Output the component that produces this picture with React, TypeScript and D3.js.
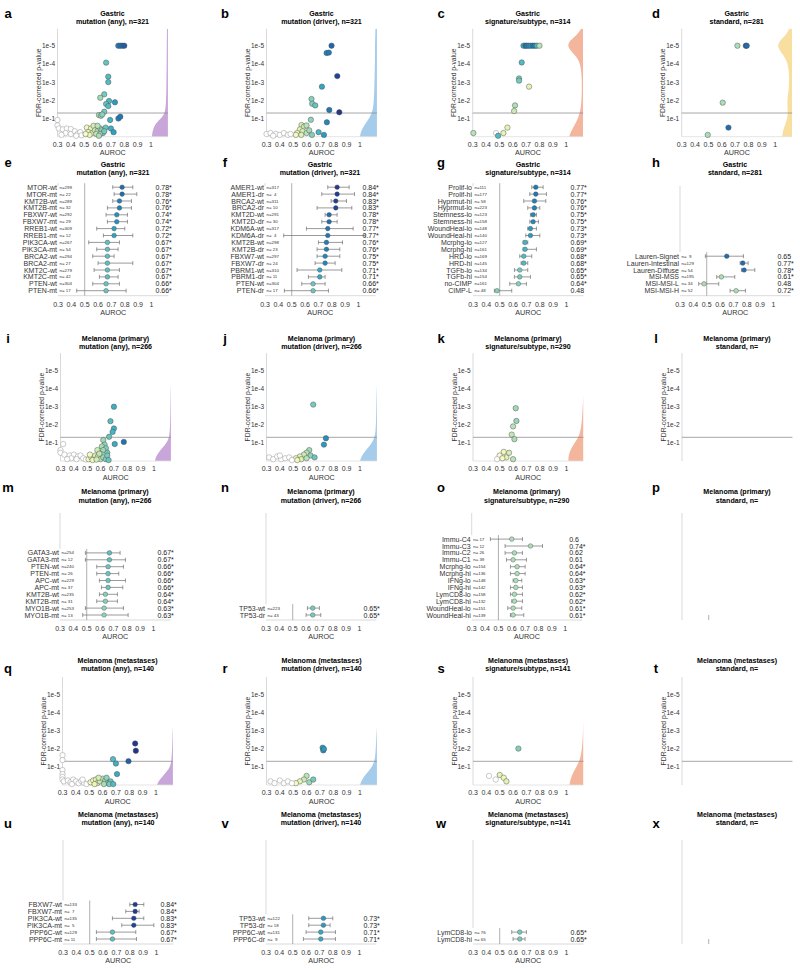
import React from 'react';
import * as d3 from 'd3';

const FONT = '"Liberation Sans", Arial, Helvetica, sans-serif';

// ---------- scatter data: [AUROC, -log10(FDR p), colour value?] ----------
const ptsA = [
  [0.755, 5], [0.77, 5], [0.785, 5], [0.8, 5],
  [0.664, 4.07], [0.68, 3.3], [0.68, 3.0], [0.65, 2.33], [0.62, 2.14], [0.686, 1.96], [0.73, 1.89],
  [0.664, 1.8], [0.68, 1.68], [0.65, 1.37], [0.61, 1.19], [0.625, 1.15], [0.635, 1.22], [0.694, 0.92],
  [0.756, 1.0], [0.77, 1.1],
  [0.3, 0.92], [0.3, 0.62], [0.31, 0.45], [0.34, 0.4], [0.37, 0.45], [0.4, 0.42], [0.36, 0.2], [0.4, 0.15],
  [0.43, 0.3], [0.45, 0.15], [0.47, 0.25], [0.48, 0.08], [0.44, 0.05], [0.33, 0.1],
  [0.52, 0.5], [0.55, 0.45], [0.57, 0.6], [0.53, 0.25], [0.56, 0.2], [0.58, 0.35], [0.54, 0.1], [0.6, 0.3],
  [0.59, 0.15], [0.51, 0.15], [0.62, 0.45], [0.63, 0.35], [0.6, 0.6], [0.64, 0.2], [0.66, 0.5], [0.62, 0.15],
  [0.65, 0.3], [0.61, 0.05], [0.7, 0.45], [0.72, 0.25],
];
const ptsB = [
  [0.787, 5], [0.75, 4.6], [0.767, 4.62], [0.83, 3.33], [0.715, 2.75], [0.637, 2.07], [0.642, 1.81],
  [0.665, 1.72], [0.77, 1.47], [0.845, 1.34], [0.632, 0.93], [0.752, 0.79],
  [0.562, 0.64], [0.58, 0.55], [0.6, 0.62], [0.55, 0.4], [0.57, 0.3], [0.6, 0.2], [0.62, 0.35], [0.53, 0.2],
  [0.52, 0.1], [0.69, 0.25], [0.73, 0.1], [0.64, 0.1], [0.56, 0.1],
  [0.3, 0.15], [0.33, 0.2], [0.37, 0.15], [0.4, 0.1], [0.43, 0.2], [0.46, 0.1], [0.48, 0.15], [0.35, 0.05],
];
const ptsC = [
  [0.68, 5, 0.7], [0.695, 5, 0.77], [0.705, 5, 0.76], [0.72, 5, 0.75], [0.735, 5, 0.73], [0.75, 5, 0.77],
  [0.765, 5, 0.76], [0.78, 5, 0.69], [0.8, 5, 0.6],
  [0.667, 4.08, 0.68], [0.647, 3.2, 0.65], [0.647, 3.08, 0.65], [0.722, 2.75, 0.55], [0.617, 1.72, 0.61],
  [0.61, 1.41, 0.58], [0.305, 0.2, 0.6], [0.475, 0.2], [0.49, 0.05, 0.68], [0.53, 0.2, 0.55], [0.56, 0.5, 0.55],
];
const ptsD = [
  [0.717, 5, 0.61], [0.78, 5, 0.78], [0.787, 5, 0.78], [0.607, 1.87, 0.61], [0.65, 0.5, 0.78], [0.495, 0.1, 0.61],
];
const ptsI = [
  [0.7, 2.98], [0.674, 2.19], [0.7, 1.79], [0.69, 1.6], [0.664, 1.33], [0.62, 1.15], [0.706, 0.93], [0.774, 1.05],
  [0.63, 0.9], [0.61, 0.8], [0.64, 0.7], [0.62, 0.6], [0.576, 0.6], [0.65, 0.45], [0.6, 0.4],
  [0.32, 0.93], [0.3, 0.6], [0.3, 0.45], [0.33, 0.35], [0.37, 0.3], [0.4, 0.35], [0.43, 0.25], [0.45, 0.3],
  [0.38, 0.15], [0.42, 0.1], [0.47, 0.15], [0.49, 0.08], [0.35, 0.1],
  [0.51, 0.1], [0.53, 0.2], [0.55, 0.15], [0.56, 0.3], [0.58, 0.25], [0.6, 0.1], [0.62, 0.2], [0.64, 0.1],
  [0.65, 0.3], [0.66, 0.05], [0.54, 0.05], [0.57, 0.08], [0.59, 0.4], [0.52, 0.35],
];
const ptsJ = [
  [0.65, 3.1], [0.745, 1.25], [0.73, 0.9], [0.62, 0.6], [0.6, 0.45], [0.63, 0.3], [0.58, 0.35], [0.55, 0.25],
  [0.52, 0.15], [0.56, 0.1], [0.6, 0.15], [0.66, 0.2], [0.53, 0.05],
  [0.32, 0.2], [0.35, 0.1], [0.38, 0.25], [0.41, 0.1], [0.44, 0.15], [0.47, 0.2], [0.49, 0.05], [0.4, 0.3],
];
const ptsK = [
  [0.62, 2.9], [0.625, 2.2], [0.6, 1.9], [0.59, 1.45], [0.61, 1.2], [0.53, 0.5], [0.5, 0.3], [0.55, 0.2],
  [0.57, 0.45], [0.48, 0.1], [0.6, 0.1], [0.52, 0.15],
];
const ptsQ = [
  [0.844, 2.28], [0.849, 1.88], [0.794, 1.31], [0.678, 1.42], [0.7, 1.18], [0.708, 0.6],
  [0.3, 1.64], [0.3, 1.37], [0.3, 0.82], [0.3, 0.6], [0.3, 0.45], [0.3, 0.3], [0.31, 0.2],
  [0.34, 0.25], [0.36, 0.15], [0.38, 0.3], [0.4, 0.2], [0.42, 0.1], [0.44, 0.22], [0.46, 0.12], [0.48, 0.05],
  [0.45, 0.3], [0.37, 0.05],
  [0.51, 0.15], [0.53, 0.25], [0.55, 0.3], [0.56, 0.1], [0.58, 0.2], [0.6, 0.35], [0.62, 0.25], [0.63, 0.4],
  [0.64, 0.1], [0.66, 0.2], [0.54, 0.05], [0.57, 0.4], [0.61, 0.05], [0.65, 0.05], [0.68, 0.05],
];
const ptsR = [
  [0.72, 2.05], [0.725, 1.9], [0.73, 1.98], [0.6, 0.5], [0.58, 0.3], [0.55, 0.2], [0.62, 0.15], [0.52, 0.1],
  [0.65, 0.3], [0.33, 0.2], [0.36, 0.1], [0.4, 0.25], [0.43, 0.1], [0.46, 0.2], [0.49, 0.1],
];
const ptsS = [[0.64, 2.0], [0.42, 0.5], [0.47, 0.3], [0.5, 0.55, 0.55], [0.53, 0.4], [0.55, 0.2]];

// ---------- null densities on the right edge: [-log10 p, width px] ----------
const densA = [[0, 16], [0.3, 15.5], [0.6, 13.5], [0.8, 11], [1.0, 7], [1.2, 4], [1.5, 2.5], [2, 1.8], [3, 1.5], [4, 1.3], [5, 1.2], [5.93, 1]];
const densB = [[0, 17], [0.3, 16], [0.6, 13], [0.9, 9], [1.2, 6], [1.5, 4], [2, 3], [3, 2.5], [4, 2], [5, 2], [5.93, 1.5]];
const densC = [[0, 14], [0.3, 12], [0.6, 9], [1.0, 5], [1.5, 2.5], [2, 1.5], [3, 1.2], [3.8, 2], [4.3, 5], [4.7, 12], [5, 16], [5.3, 13], [5.6, 6], [5.93, 2]];
const densD = [[0, 10], [0.4, 9], [0.8, 6], [1.2, 4], [1.8, 5], [2.2, 4.5], [2.8, 3], [3.5, 3], [4.2, 5], [4.7, 12], [5, 15], [5.3, 12], [5.6, 6], [5.93, 3]];
const densI = [[0, 16], [0.25, 15], [0.5, 12], [0.75, 8], [1, 4.5], [1.3, 1.5], [2, 0.8], [3, 0.5], [3.8, 0.3], [4.2, 0]];
const densJ = [[0, 17], [0.3, 15], [0.6, 11], [0.9, 6], [1.2, 3], [1.6, 1.2], [2.5, 0.8], [3.5, 0.5], [4.2, 0]];
const densK = [[0, 15], [0.3, 15], [0.6, 13], [0.9, 10], [1.2, 6], [1.6, 3], [2.2, 1.5], [3, 0.8], [3.6, 0]];
const densQ = [[0, 16], [0.25, 14], [0.5, 10], [0.75, 6], [1, 3], [1.3, 1.5], [2, 0.8], [2.8, 0.4], [3.2, 0]];
const densR = [[0, 17], [0.3, 15], [0.6, 11], [0.9, 6], [1.2, 3], [1.6, 1.5], [2.5, 0.8], [3.2, 0]];
const densS = [[0, 14], [0.3, 13], [0.6, 11], [0.9, 8], [1.2, 5], [1.6, 2.5], [2.2, 1], [3, 0.5], [3.5, 0]];

// ---------- forest rows: [feature, n, AUROC, CI low, CI high, significant, colour value?] ----------
const rowsE = [
  ['MTOR-wt', 299, 0.78, 0.71, 0.86, true], ['MTOR-mt', 22, 0.78, 0.72, 0.89, true],
  ['KMT2B-wt', 289, 0.76, 0.71, 0.85, true], ['KMT2B-mt', 32, 0.76, 0.67, 0.85, true],
  ['FBXW7-wt', 292, 0.74, 0.66, 0.82, true], ['FBXW7-mt', 29, 0.74, 0.67, 0.82, true],
  ['RREB1-wt', 309, 0.72, 0.59, 0.8, true], ['RREB1-mt', 12, 0.72, 0.64, 0.86, true],
  ['PIK3CA-wt', 267, 0.67, 0.53, 0.76, true], ['PIK3CA-mt', 54, 0.67, 0.59, 0.75, true],
  ['BRCA2-wt', 294, 0.67, 0.56, 0.72, true], ['BRCA2-mt', 27, 0.67, 0.6, 0.86, true],
  ['KMT2C-wt', 279, 0.67, 0.57, 0.76, true], ['KMT2C-mt', 42, 0.67, 0.61, 0.75, true],
  ['PTEN-wt', 304, 0.66, 0.56, 0.76, true], ['PTEN-mt', 17, 0.66, 0.44, 0.81, true],
];
const rowsF = [
  ['AMER1-wt', 317, 0.84, 0.77, 0.93, true], ['AMER1-dr', 4, 0.84, 0.725, 0.97, true],
  ['BRCA2-wt', 311, 0.83, 0.795, 0.91, true], ['BRCA2-dr', 10, 0.83, 0.69, 0.95, true],
  ['KMT2D-wt', 291, 0.78, 0.75, 0.84, true], ['KMT2D-dr', 30, 0.78, 0.725, 0.84, true],
  ['KDM6A-wt', 317, 0.77, 0.61, 0.96, true], ['KDM6A-dr', 4, 0.77, 0.44, 1.05, true],
  ['KMT2B-wt', 298, 0.76, 0.7, 0.88, true], ['KMT2B-dr', 23, 0.76, 0.69, 0.86, true],
  ['FBXW7-wt', 297, 0.75, 0.69, 0.86, true], ['FBXW7-dr', 24, 0.75, 0.675, 0.825, true],
  ['PBRM1-wt', 310, 0.71, 0.54, 0.875, true], ['PBRM1-dr', 11, 0.71, 0.625, 0.75, true],
  ['PTEN-wt', 304, 0.66, 0.575, 0.75, true], ['PTEN-dr', 17, 0.66, 0.445, 0.775, true],
];
const rowsG = [
  ['Prolif-lo', 111, 0.77, 0.74, 0.825, true], ['Prolif-hi', 177, 0.77, 0.725, 0.85, true],
  ['Hyprmut-hi', 58, 0.76, 0.68, 0.845, true], ['Hyprmut-lo', 223, 0.76, 0.71, 0.8, true],
  ['Stemness-lo', 123, 0.75, 0.73, 0.775, true], ['Stemness-hi', 158, 0.75, 0.725, 0.79, true],
  ['WoundHeal-lo', 148, 0.73, 0.71, 0.775, true], ['WoundHeal-hi', 140, 0.73, 0.695, 0.8, true],
  ['Mcrphg-lo', 127, 0.69, 0.675, 0.71, true], ['Mcrphg-hi', 161, 0.69, 0.675, 0.775, true],
  ['HRD-lo', 169, 0.68, 0.65, 0.74, true], ['HRD-hi', 145, 0.68, 0.66, 0.71, true],
  ['TGFb-lo', 134, 0.65, 0.61, 0.71, true], ['TGFb-hi', 154, 0.65, 0.61, 0.73, true],
  ['no-CIMP', 161, 0.64, 0.575, 0.7, true], ['CIMP-L', 48, 0.48, 0.46, 0.59, false, 0.64],
];
const rowsH = [
  ['Lauren-Signet', 9, 0.65, 0.49, 0.775, false, 0.78], ['Lauren-Intestinal', 129, 0.77, 0.75, 0.81, true, 0.78],
  ['Lauren-Diffuse', 54, 0.78, 0.76, 0.86, true, 0.78], ['MSI-MSS', 195, 0.61, 0.575, 0.71, true, 0.61],
  ['MSI-MSI-L', 34, 0.48, 0.44, 0.59, false, 0.61], ['MSI-MSI-H', 52, 0.72, 0.675, 0.79, true, 0.61],
];
const rowsM = [
  ['GATA3-wt', 254, 0.67, 0.49, 0.75, true], ['GATA3-mt', 12, 0.67, 0.49, 0.79, true],
  ['PTEN-wt', 240, 0.66, 0.575, 0.775, true], ['PTEN-mt', 26, 0.66, 0.575, 0.74, true],
  ['APC-wt', 229, 0.66, 0.595, 0.79, true], ['APC-mt', 37, 0.66, 0.61, 0.77, true],
  ['KMT2B-wt', 235, 0.64, 0.595, 0.73, true], ['KMT2B-mt', 31, 0.64, 0.575, 0.73, true],
  ['MYO1B-wt', 253, 0.63, 0.49, 0.775, true], ['MYO1B-mt', 13, 0.63, 0.47, 0.81, true],
];
const rowsN = [['TP53-wt', 223, 0.65, 0.61, 0.7, true], ['TP53-dr', 43, 0.65, 0.6, 0.71, true]];
const rowsO = [
  ['Immu-C4', 17, 0.6, 0.44, 0.68, false, 0.61], ['Immu-C3', 12, 0.74, 0.55, 0.83, true, 0.61],
  ['Immu-C2', 26, 0.62, 0.55, 0.68, false, 0.61], ['Immu-C1', 39, 0.61, 0.56, 0.71, false, 0.61],
  ['Mcrphg-lo', 154, 0.64, 0.59, 0.7, true, 0.61], ['Mcrphg-hi', 136, 0.64, 0.59, 0.7, true, 0.61],
  ['IFNg-lo', 148, 0.63, 0.61, 0.675, true, 0.61], ['IFNg-hi', 142, 0.63, 0.59, 0.68, true, 0.61],
  ['LymCD8-lo', 158, 0.62, 0.59, 0.68, true, 0.61], ['LymCD8-hi', 132, 0.62, 0.6, 0.68, true, 0.61],
  ['WoundHeal-lo', 151, 0.61, 0.57, 0.675, true, 0.61], ['WoundHeal-hi', 139, 0.61, 0.59, 0.69, true, 0.61],
];
const rowsU = [
  ['FBXW7-wt', 133, 0.84, 0.8, 0.905, true], ['FBXW7-mt', 7, 0.84, 0.77, 0.87, true],
  ['PIK3CA-wt', 135, 0.83, 0.67, 0.905, true], ['PIK3CA-mt', 5, 0.83, 0.74, 0.98, true],
  ['PPP6C-wt', 129, 0.67, 0.55, 0.845, true], ['PPP6C-mt', 11, 0.67, 0.55, 0.85, true],
];
const rowsV = [
  ['TP53-wt', 122, 0.73, 0.62, 0.8, true], ['TP53-dr', 18, 0.73, 0.62, 0.78, true],
  ['PPP6C-wt', 131, 0.71, 0.6, 0.82, true], ['PPP6C-dr', 9, 0.71, 0.58, 0.82, true],
];
const rowsW = [['LymCD8-lo', 76, 0.65, 0.59, 0.7, true], ['LymCD8-hi', 65, 0.65, 0.6, 0.69, true]];

const xTicks = [0.3, 0.4, 0.5, 0.6, 0.7, 0.8, 0.9, 1];
const pTicks = [1, 2, 3, 4, 5];

const PURPLE = '#c8a6d9';
const BLUE = '#a5ccea';
const PEACH = '#f3b59c';
const YELLOW = '#f8dfa0';

// layout of the six panel rows
const SC = [
  { letterY: 13, t1: 14, t2: 22, y5: 45.7 },
  null,
  { letterY: 338, t1: 338.5, t2: 347, y5: 370 },
  null,
  { letterY: 668, t1: 661, t2: 669, y5: 694 },
];
const FO = [
  null,
  { letterY: 162, t1: 165, t2: 173.3, top: 186, axis: 295.7 },
  null,
  { letterY: 487, t1: 492, t2: 500.5, top: 513, axis: 620 },
  null,
  { letterY: 823, t1: 815, t2: 823, top: 840, axis: 944 },
];
const letterX = [8, 225, 441, 656];
const DEC = 18.2;

const panels = [
  { id: 'a', row: 0, col: 0, ax: 57.5, t1: 'Gastric', t2: 'mutation (any), n=321', pts: ptsA, dens: densA, dc: PURPLE },
  { id: 'b', row: 0, col: 1, ax: 266.5, t1: 'Gastric', t2: 'mutation (driver), n=321', pts: ptsB, dens: densB, dc: BLUE },
  { id: 'c', row: 0, col: 2, ax: 472.7, t1: 'Gastric', t2: 'signature/subtype, n=314', pts: ptsC, dens: densC, dc: PEACH },
  { id: 'd', row: 0, col: 3, ax: 681.7, t1: 'Gastric', t2: 'standard, n=281', pts: ptsD, dens: densD, dc: YELLOW },
  { id: 'e', row: 1, col: 0, ax: 58, t1: 'Gastric', t2: 'mutation (any), n=321', rows: rowsE },
  { id: 'f', row: 1, col: 1, ax: 265, t1: 'Gastric', t2: 'mutation (driver), n=321', rows: rowsF },
  { id: 'g', row: 1, col: 2, ax: 473, t1: 'Gastric', t2: 'signature/subtype, n=314', rows: rowsG },
  { id: 'h', row: 1, col: 3, ax: 680, t1: 'Gastric', t2: 'standard, n=281', rows: rowsH },
  { id: 'i', row: 2, col: 0, ax: 60.5, t1: 'Melanoma (primary)', t2: 'mutation (any), n=266', pts: ptsI, dens: densI, dc: PURPLE },
  { id: 'j', row: 2, col: 1, ax: 266.5, t1: 'Melanoma (primary)', t2: 'mutation (driver), n=266', pts: ptsJ, dens: densJ, dc: BLUE },
  { id: 'k', row: 2, col: 2, ax: 473, t1: 'Melanoma (primary)', t2: 'signature/subtype, n=290', pts: ptsK, dens: densK, dc: PEACH },
  { id: 'l', row: 2, col: 3, ax: 682, t1: 'Melanoma (primary)', t2: 'standard, n=', pts: [], dens: null, dc: YELLOW },
  { id: 'm', row: 3, col: 0, ax: 60, t1: 'Melanoma (primary)', t2: 'mutation (any), n=266', rows: rowsM },
  { id: 'n', row: 3, col: 1, ax: 266, t1: 'Melanoma (primary)', t2: 'mutation (driver), n=266', rows: rowsN },
  { id: 'o', row: 3, col: 2, ax: 471.7, t1: 'Melanoma (primary)', t2: 'signature/subtype, n=290', rows: rowsO },
  { id: 'p', row: 3, col: 3, ax: 682, t1: 'Melanoma (primary)', t2: 'standard, n=', rows: [] },
  { id: 'q', row: 4, col: 0, ax: 62.5, t1: 'Melanoma (metastases)', t2: 'mutation (any), n=140', pts: ptsQ, dens: densQ, dc: PURPLE },
  { id: 'r', row: 4, col: 1, ax: 266.5, t1: 'Melanoma (metastases)', t2: 'mutation (driver), n=140', pts: ptsR, dens: densR, dc: BLUE },
  { id: 's', row: 4, col: 2, ax: 473, t1: 'Melanoma (metastases)', t2: 'signature/subtype, n=141', pts: ptsS, dens: densS, dc: PEACH },
  { id: 't', row: 4, col: 3, ax: 682, t1: 'Melanoma (metastases)', t2: 'standard, n=', pts: [], dens: null, dc: YELLOW },
  { id: 'u', row: 5, col: 0, ax: 63, t1: 'Melanoma (metastases)', t2: 'mutation (any), n=140', rows: rowsU },
  { id: 'v', row: 5, col: 1, ax: 266, t1: 'Melanoma (metastases)', t2: 'mutation (driver), n=140', rows: rowsV },
  { id: 'w', row: 5, col: 2, ax: 473, t1: 'Melanoma (metastases)', t2: 'signature/subtype, n=141', rows: rowsW },
  { id: 'x', row: 5, col: 3, ax: 682, t1: 'Melanoma (metastases)', t2: 'standard, n=', rows: [] },
];

// AUROC -> YlGnBu, tuned so 0.55 is pale yellow-green and 0.84 is navy
const colorOf = (v: number) => d3.interpolateYlGnBu(Math.max(0, Math.min(1, 0.15 + (v - 0.55) * 2.45)));
const fmtTick = (v: number) => (v === 1 ? '1' : v.toFixed(1));

function xScaleFor(ax: number) {
  return d3.scaleLinear().domain([0.3, 1]).range([ax, ax + 93.5]);
}

function Header({ p, R }: any) {
  const cx = p.ax + 55;
  return (
    <g>
      <text x={letterX[p.col]} y={R.letterY} fontSize={13} fontWeight="bold" textAnchor="middle" dominantBaseline="central" fill="#000">{p.id}</text>
      <text x={cx} y={R.t1} fontSize={7.1} fontWeight="bold" textAnchor="middle" dominantBaseline="central" fill="#000">{p.t1}</text>
      <text x={cx} y={R.t2} fontSize={7.1} fontWeight="bold" textAnchor="middle" dominantBaseline="central" fill="#000">{p.t2}</text>
    </g>
  );
}

function XAxisLabels({ x, y, right, ax }: any) {
  return (
    <g>
      {xTicks.map((t) => (
        <text key={t} x={x(t)} y={y} fontSize={7} textAnchor="middle" dominantBaseline="central" fill="#333">{fmtTick(t)}</text>
      ))}
      <text x={(ax + right) / 2} y={y + 8.3} fontSize={7.2} textAnchor="middle" dominantBaseline="central" fill="#333">AUROC</text>
    </g>
  );
}

function ScatterPanel({ p }: any) {
  const R = SC[p.row]!;
  const x = xScaleFor(p.ax);
  const right = x(1.127);
  const y = d3.scaleLinear().domain([0, 5]).range([R.y5 + 5 * DEC, R.y5]);
  const top = y(5.93);
  const bottom = y(0);
  const empty = p.pts.length === 0;
  const area = d3.area<number[]>().y((d) => y(d[0])).x0(right).x1((d) => right - d[1]).curve(d3.curveBasis);
  const clipId = `clip-${p.id}`;
  return (
    <g>
      <Header p={p} R={R} />
      <defs>
        <clipPath id={clipId}><rect x={p.ax} y={top} width={right - p.ax} height={bottom - top + 1} /></clipPath>
      </defs>
      {p.dens && <path d={area(p.dens) || ''} fill={p.dc} clipPath={`url(#${clipId})`} />}
      <line x1={p.ax} x2={p.ax} y1={top} y2={bottom} stroke="#cfcfcf" strokeWidth={0.8} />
      {!empty && <line x1={p.ax} x2={right} y1={bottom} y2={bottom} stroke="#dedede" strokeWidth={0.8} />}
      <line x1={p.ax} x2={right} y1={y(-Math.log10(0.05))} y2={y(-Math.log10(0.05))} stroke="#8f8f8f" strokeWidth={0.8} />
      {pTicks.map((k) => (
        <text key={k} x={p.ax - 2.5} y={y(k)} fontSize={6.5} textAnchor="end" dominantBaseline="central" fill="#333">{`1e-${k}`}</text>
      ))}
      <text transform={`translate(${p.ax - 19},${(top + bottom) / 2}) rotate(-90)`} fontSize={6.8} textAnchor="middle" dominantBaseline="central" fill="#333">FDR-corrected p-value</text>
      {p.pts.map((d: number[], i: number) => {
        const auc = Math.max(0.3, d[0]);
        const cv = d.length > 2 ? d[2] : d[0];
        const white = d.length <= 2 && d[0] < 0.5;
        return (
          <circle key={i} cx={x(auc)} cy={y(Math.min(5, d[1]))} r={2.7}
            fill={white ? '#ffffff' : colorOf(cv)} stroke={white ? '#8a8a8a' : '#4a4a4a'} strokeWidth={0.45} />
        );
      })}
      {!empty && <XAxisLabels x={x} y={bottom + 7.8} right={right} ax={p.ax} />}
    </g>
  );
}

function ForestPanel({ p }: any) {
  const R = FO[p.row]!;
  const x = xScaleFor(p.ax);
  const right = x(1.127);
  const rows = p.rows;
  const N = rows.length;
  const yRow = (i: number) => R.axis - 5 - (N - 1 - i) * 6.9;
  const firstTop = N ? yRow(0) - 4 : R.axis - 5;
  return (
    <g>
      <Header p={p} R={R} />
      <line x1={p.ax} x2={p.ax} y1={R.top} y2={N ? firstTop : R.axis} stroke="#cfcfcf" strokeWidth={0.8} />
      {N > 0 && <line x1={p.ax} x2={right} y1={R.axis} y2={R.axis} stroke="#cfcfcf" strokeWidth={0.8} />}
      <line x1={x(0.5)} x2={x(0.5)} y1={firstTop} y2={R.axis} stroke="#9a9a9a" strokeWidth={0.8} />
      {rows.map((r: any[], i: number) => {
        const yy = yRow(i);
        const cv = r.length > 6 ? r[6] : r[2];
        return (
          <g key={i}>
            <text x={p.ax - 1} y={yy} fontSize={7} textAnchor="end" dominantBaseline="central" fill="#333">{r[0]}</text>
            <text x={p.ax + 1.5} y={yy} fontSize={4.4} dominantBaseline="central" fill="#333" style={{ whiteSpace: 'pre' }}>{`n=${String(r[1]).padStart(3, ' ')}`}</text>
            <line x1={x(r[3])} x2={x(r[4])} y1={yy} y2={yy} stroke="#6e6e6e" strokeWidth={0.7} />
            <line x1={x(r[3])} x2={x(r[3])} y1={yy - 2} y2={yy + 2} stroke="#6e6e6e" strokeWidth={0.7} />
            <line x1={x(r[4])} x2={x(r[4])} y1={yy - 2} y2={yy + 2} stroke="#6e6e6e" strokeWidth={0.7} />
            <circle cx={x(r[2])} cy={yy} r={2.3} fill={colorOf(cv)} stroke="#4a4a4a" strokeWidth={0.4} />
            <text x={x(1.03)} y={yy} fontSize={7} dominantBaseline="central" fill="#222">{`${r[2]}${r[5] ? '*' : ''}`}</text>
          </g>
        );
      })}
      {N > 0 && <XAxisLabels x={x} y={R.axis + 8.3} right={right} ax={p.ax} />}
    </g>
  );
}

export default function App() {
  return (
    <svg width={800} height={970} viewBox="0 0 800 970" style={{ position: 'absolute', left: 0, top: 0, background: '#fff' }}
      fontFamily={FONT}>
      <rect width={800} height={970} fill="#fff" />
      {panels.map((p) => (p.rows ? <ForestPanel key={p.id} p={p} /> : <ScatterPanel key={p.id} p={p} />))}
    </svg>
  );
}
